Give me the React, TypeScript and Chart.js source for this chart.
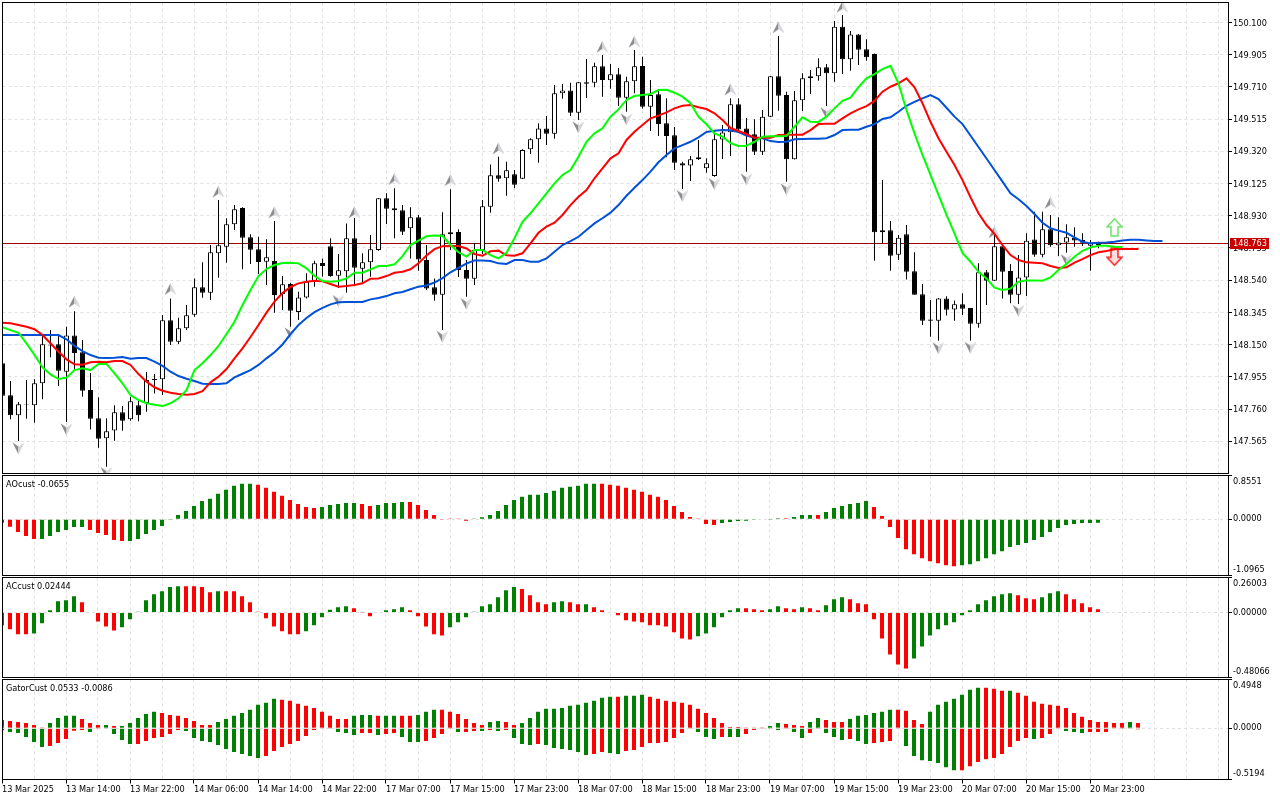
import React, { useEffect, useRef } from 'react';
import { Chart, registerables } from 'chart.js';

Chart.register(...registerables);

// candles, one per hour
const opens = [
  148.037, 147.843, 147.722, 147.788, 147.783, 147.916, 148.151, 148.152, 147.986, 148.206,
  148.104, 147.875, 147.704, 147.583, 147.631, 147.740, 147.698, 147.783, 147.797, 147.942,
  147.940, 148.297, 148.168, 148.249, 148.331, 148.497, 148.464, 148.703, 148.743, 148.878,
  148.977, 148.800, 148.727, 148.652, 148.656, 148.456, 148.517, 148.347, 148.436, 148.531,
  148.644, 148.745, 148.567, 148.594, 148.794, 148.610, 148.648, 148.723, 149.036, 148.975,
  148.963, 148.854, 148.921, 148.662, 148.497, 148.452, 148.818, 148.832, 148.602, 148.549,
  148.723, 148.985, 149.175, 149.157, 149.181, 149.154, 149.332, 149.393, 149.459, 149.427,
  149.671, 149.689, 149.554, 149.738, 149.735, 149.835, 149.750, 149.786, 149.645, 149.744,
  149.837, 149.590, 149.665, 149.490, 149.417, 149.248, 149.235, 149.284, 149.217, 149.171,
  149.392, 149.435, 149.605, 149.459, 149.423, 149.318, 149.530, 149.774, 149.661, 149.272,
  149.629, 149.762, 149.774, 149.829, 149.792, 150.074, 149.877, 150.028, 149.938, 149.909,
  148.830, 148.842, 148.694, 148.818, 148.594, 148.455, 148.302, 148.295, 148.430, 148.363,
  148.394, 148.372, 148.277, 148.588, 148.537, 148.745, 148.596, 148.452, 148.557, 148.787,
  148.694, 148.848, 148.751, 148.769, 148.797, 148.783, 148.749, 148.753,
];
const highs = [
  148.039, 147.930, 147.803, 147.936, 147.940, 148.202, 148.239, 148.208, 148.258, 148.352,
  148.178, 147.978, 147.831, 147.704, 147.783, 147.778, 147.835, 147.821, 147.984, 147.972,
  148.329, 148.430, 148.313, 148.390, 148.551, 148.648, 148.753, 149.025, 148.915, 148.995,
  148.981, 148.818, 148.803, 148.788, 148.898, 148.565, 148.525, 148.470, 148.582, 148.658,
  148.672, 148.794, 148.699, 148.884, 148.916, 148.703, 148.814, 149.037, 149.066, 149.096,
  148.995, 148.981, 148.935, 148.753, 148.551, 148.951, 149.090, 148.848, 148.662, 148.765,
  149.025, 149.241, 149.287, 149.257, 149.207, 149.332, 149.399, 149.490, 149.534, 149.721,
  149.728, 149.735, 149.740, 149.879, 149.856, 149.903, 149.849, 149.824, 149.772, 149.933,
  149.893, 149.752, 149.691, 149.641, 149.467, 149.257, 149.292, 149.389, 149.278, 149.449,
  149.479, 149.641, 149.641, 149.522, 149.514, 149.570, 149.776, 150.018, 149.681, 149.685,
  149.792, 149.812, 149.883, 149.849, 150.109, 150.145, 150.048, 150.030, 149.998, 149.913,
  149.146, 148.898, 148.814, 148.874, 148.709, 148.517, 148.420, 148.432, 148.443, 148.417,
  148.461, 148.372, 148.642, 148.602, 148.826, 148.753, 148.638, 148.692, 148.824, 148.955,
  148.955, 148.935, 148.921, 148.878, 148.860, 148.824, 148.783, 148.773,
];
const lows = [
  147.839, 147.698, 147.567, 147.702, 147.677, 147.819, 148.073, 147.900, 147.682, 147.996,
  147.835, 147.637, 147.526, 147.411, 147.568, 147.629, 147.690, 147.686, 147.744, 147.855,
  147.845, 148.148, 148.154, 148.238, 148.319, 148.434, 148.420, 148.555, 148.646, 148.844,
  148.606, 148.638, 148.577, 148.511, 148.343, 148.360, 148.258, 148.299, 148.430, 148.501,
  148.561, 148.561, 148.493, 148.464, 148.511, 148.525, 148.561, 148.719, 148.880, 148.794,
  148.813, 148.672, 148.598, 148.481, 148.416, 148.238, 148.723, 148.559, 148.440, 148.511,
  148.699, 148.949, 149.136, 149.051, 149.096, 149.152, 149.304, 149.251, 149.358, 149.396,
  149.639, 149.534, 149.510, 149.643, 149.708, 149.651, 149.699, 149.594, 149.560, 149.671,
  149.580, 149.443, 149.413, 149.284, 149.207, 149.092, 149.140, 149.268, 149.191, 149.166,
  149.274, 149.292, 149.439, 149.197, 149.298, 149.298, 149.528, 149.566, 149.136, 149.271,
  149.564, 149.667, 149.748, 149.594, 149.741, 149.788, 149.808, 149.843, 149.869, 148.658,
  148.763, 148.597, 148.662, 148.545, 148.452, 148.269, 148.198, 148.174, 148.326, 148.295,
  148.329, 148.174, 148.252, 148.390, 148.535, 148.430, 148.400, 148.396, 148.444, 148.682,
  148.679, 148.743, 148.686, 148.706, 148.743, 148.747, 148.597, 148.733,
];
const closes = [
  147.841, 147.722, 147.789, 147.791, 147.916, 148.152, 148.145, 147.992, 148.206, 148.099,
  147.871, 147.702, 147.581, 147.625, 147.740, 147.690, 147.807, 147.722, 147.936, 147.936,
  148.297, 148.168, 148.249, 148.328, 148.497, 148.464, 148.709, 148.751, 148.878, 148.969,
  148.797, 148.725, 148.650, 148.679, 148.450, 148.515, 148.355, 148.436, 148.531, 148.642,
  148.626, 148.565, 148.600, 148.794, 148.616, 148.648, 148.727, 149.036, 148.973, 148.963,
  148.833, 148.921, 148.666, 148.490, 148.452, 148.818, 148.830, 148.602, 148.549, 148.723,
  148.987, 149.175, 149.154, 149.205, 149.118, 149.328, 149.393, 149.459, 149.427, 149.671,
  149.689, 149.554, 149.738, 149.729, 149.835, 149.752, 149.786, 149.645, 149.744, 149.835,
  149.590, 149.661, 149.485, 149.413, 149.251, 149.235, 149.272, 149.272, 149.248, 149.393,
  149.434, 149.605, 149.452, 149.419, 149.318, 149.530, 149.774, 149.657, 149.272, 149.629,
  149.762, 149.774, 149.829, 149.792, 150.074, 149.877, 150.028, 149.935, 149.889, 148.830,
  148.842, 148.688, 148.797, 148.591, 148.452, 148.295, 148.295, 148.430, 148.361, 148.394,
  148.367, 148.277, 148.588, 148.537, 148.745, 148.591, 148.452, 148.557, 148.779, 148.694,
  148.848, 148.751, 148.769, 148.800, 148.781, 148.767, 148.767, 148.763,
];

// alligator lines, already shifted forward past the last candle
const jaw = [
  148.208, 148.208, 148.208, 148.208, 148.208, 148.208, 148.208, 148.208, 148.182, 148.142,
  148.111, 148.087, 148.071, 148.069, 148.071, 148.075, 148.065, 148.069, 148.069, 148.047,
  148.021, 147.986, 147.960, 147.944, 147.930, 147.913, 147.912, 147.912, 147.916, 147.952,
  147.974, 147.996, 148.027, 148.067, 148.104, 148.151, 148.214, 148.269, 148.311, 148.347,
  148.372, 148.394, 148.406, 148.408, 148.408, 148.408, 148.424, 148.432, 148.444, 148.461,
  148.469, 148.485, 148.501, 148.508, 148.526, 148.553, 148.588, 148.614, 148.641, 148.660,
  148.660, 148.656, 148.642, 148.638, 148.662, 148.662, 148.652, 148.652, 148.672, 148.712,
  148.753, 148.777, 148.803, 148.844, 148.884, 148.915, 148.949, 148.995, 149.051, 149.100,
  149.146, 149.197, 149.254, 149.298, 149.338, 149.358, 149.378, 149.405, 149.437, 149.445,
  149.449, 149.447, 149.437, 149.415, 149.402, 149.399, 149.382, 149.376, 149.378, 149.393,
  149.395, 149.396, 149.396, 149.399, 149.419, 149.449, 149.451, 149.451, 149.469, 149.485,
  149.516, 149.526, 149.560, 149.596, 149.620, 149.641, 149.661, 149.637, 149.584, 149.530,
  149.485, 149.416, 149.346, 149.277, 149.207, 149.137, 149.066, 149.030, 148.989, 148.941,
  148.888, 148.854, 148.840, 148.827, 148.800, 148.773, 148.763, 148.767, 148.769, 148.773,
  148.781, 148.785, 148.785, 148.781, 148.777, 148.777,
];
const teeth = [
  148.283, 148.279, 148.269, 148.258, 148.243, 148.208, 148.158, 148.107, 148.061, 148.031,
  148.028, 148.043, 148.047, 148.043, 148.051, 148.051, 148.027, 147.972, 147.926, 147.892,
  147.871, 147.859, 147.851, 147.847, 147.851, 147.869, 147.922, 147.956, 148.002, 148.067,
  148.128, 148.196, 148.269, 148.344, 148.410, 148.462, 148.499, 148.521, 148.531, 148.537,
  148.533, 148.517, 148.501, 148.505, 148.511, 148.521, 148.549, 148.551, 148.565, 148.585,
  148.591, 148.606, 148.642, 148.689, 148.728, 148.746, 148.747, 148.747, 148.732, 148.699,
  148.688, 148.715, 148.719, 148.691, 148.688, 148.703, 148.763, 148.827, 148.864, 148.888,
  148.935, 148.995, 149.045, 149.086, 149.157, 149.217, 149.278, 149.308, 149.389, 149.439,
  149.479, 149.520, 149.536, 149.556, 149.580, 149.596, 149.600, 149.587, 149.576, 149.550,
  149.510, 149.461, 149.443, 149.425, 149.402, 149.402, 149.402, 149.419, 149.421, 149.421,
  149.421, 149.449, 149.485, 149.487, 149.487, 149.520, 149.550, 149.574, 149.594, 149.625,
  149.681, 149.711, 149.732, 149.762, 149.708, 149.611, 149.499, 149.399, 149.318, 149.237,
  149.146, 149.042, 148.945, 148.874, 148.820, 148.753, 148.692, 148.662, 148.648, 148.646,
  148.642, 148.626, 148.614, 148.618, 148.646, 148.668, 148.692, 148.709, 148.717, 148.727,
  148.729, 148.729, 148.729,
];
const lips = [
  148.255, 148.238, 148.222, 148.158, 148.087, 148.013, 147.970, 147.942, 147.950, 147.996,
  148.007, 147.996, 148.033, 148.033, 147.976, 147.916, 147.845, 147.815, 147.795, 147.786,
  147.778, 147.795, 147.825, 147.875, 147.996, 148.037, 148.087, 148.142, 148.214, 148.289,
  148.390, 148.481, 148.565, 148.608, 148.632, 148.644, 148.646, 148.642, 148.612, 148.565,
  148.535, 148.531, 148.535, 148.551, 148.585, 148.585, 148.606, 148.626, 148.626, 148.636,
  148.686, 148.753, 148.779, 148.806, 148.810, 148.809, 148.753, 148.709, 148.683, 148.723,
  148.723, 148.692, 148.672, 148.706, 148.794, 148.894, 148.945, 149.005, 149.066, 149.126,
  149.177, 149.207, 149.287, 149.378, 149.429, 149.459, 149.530, 149.574, 149.631, 149.655,
  149.661, 149.667, 149.691, 149.693, 149.675, 149.651, 149.611, 149.530, 149.484, 149.429,
  149.409, 149.370, 149.353, 149.354, 149.378, 149.409, 149.411, 149.411, 149.413, 149.469,
  149.526, 149.499, 149.498, 149.530, 149.580, 149.626, 149.645, 149.708, 149.762, 149.788,
  149.818, 149.838, 149.732, 149.570, 149.429, 149.298, 149.177, 149.056, 148.935, 148.824,
  148.705, 148.652, 148.591, 148.551, 148.495, 148.481, 148.489, 148.531, 148.539, 148.539,
  148.537, 148.557, 148.602, 148.638, 148.682, 148.718, 148.739, 148.749, 148.749, 148.743,
  148.741,
];

// fractals and the last signal arrows: bar index and price
const fractalUpBars = [9, 21, 27, 34, 44, 49, 56, 62, 75, 79, 91, 97, 105, 124, 131];
const fractalUpPrices = [
  148.410, 148.487, 149.076, 148.951, 148.951, 149.153, 149.146, 149.338, 149.953, 149.984,
  149.695, 150.071, 150.195, 148.830, 149.009,
];
const fractalDownBars = [2, 8, 13, 36, 42, 55, 58, 72, 78, 85, 89, 93, 98, 103, 117, 121, 127, 133];
const fractalDownPrices = [
  147.522, 147.637, 147.373, 148.218, 148.414, 148.198, 148.396, 149.465, 149.514, 149.050,
  149.122, 149.151, 149.090, 149.550, 148.128, 148.131, 148.355, 148.662,
];
const signalBar = 139;
const signalUpPrice = 148.860;
const signalDownPrice = 148.682;
const lastPrice = 148.763;

const aoValues = [
  -0.065, -0.144, -0.248, -0.327, -0.386, -0.386, -0.327, -0.248, -0.209, -0.150,
  -0.150, -0.209, -0.268, -0.307, -0.405, -0.425, -0.425, -0.386, -0.288, -0.209,
  -0.131, -0.012, 0.085, 0.163, 0.261, 0.359, 0.399, 0.497, 0.575, 0.654,
  0.693, 0.693, 0.673, 0.614, 0.536, 0.458, 0.379, 0.301, 0.242, 0.222,
  0.242, 0.281, 0.301, 0.320, 0.320, 0.301, 0.261, 0.281, 0.320, 0.320,
  0.340, 0.340, 0.281, 0.183, 0.085, -0.005, 0.005, 0.005, -0.026, 0.007,
  0.039, 0.085, 0.163, 0.281, 0.379, 0.438, 0.477, 0.477, 0.516, 0.556,
  0.614, 0.634, 0.654, 0.693, 0.693, 0.693, 0.673, 0.654, 0.614, 0.575,
  0.536, 0.477, 0.438, 0.379, 0.261, 0.144, 0.046, 0.007, -0.092, -0.111,
  -0.072, -0.052, -0.033, -0.026, -0.005, -0.007, -0.005, 0.020, 0.020, 0.046,
  0.085, 0.085, 0.085, 0.144, 0.222, 0.261, 0.301, 0.320, 0.359, 0.242,
  0.065, -0.150, -0.366, -0.582, -0.680, -0.758, -0.817, -0.856, -0.895, -0.915,
  -0.895, -0.876, -0.817, -0.758, -0.680, -0.621, -0.542, -0.503, -0.464, -0.405,
  -0.346, -0.248, -0.170, -0.111, -0.092, -0.072, -0.072, -0.0655,
];
const aoDirs = 'r5 g6 r5 g16 r8 g5 r2 g4 r8 g16 r15 g8 r1 g3 r1 g6 r11 g18';

const acValues = [
  -0.094, -0.124, -0.161, -0.161, -0.154, -0.079, 0.017, 0.084, 0.092, 0.122,
  0.077, 0.005, -0.065, -0.102, -0.132, -0.109, -0.050, 0.007, 0.092, 0.136,
  0.159, 0.189, 0.196, 0.196, 0.196, 0.189, 0.151, 0.159, 0.159, 0.159,
  0.122, 0.077, 0.007, -0.042, -0.102, -0.139, -0.161, -0.161, -0.139, -0.094,
  -0.035, 0.022, 0.040, 0.047, 0.032, 0.002, -0.027, -0.002, 0.017, 0.025,
  0.040, 0.017, -0.027, -0.102, -0.161, -0.169, -0.109, -0.072, -0.035, 0.007,
  0.047, 0.062, 0.114, 0.166, 0.189, 0.174, 0.129, 0.077, 0.062, 0.077,
  0.084, 0.077, 0.062, 0.062, 0.040, 0.017, -0.002, -0.020, -0.057, -0.065,
  -0.072, -0.094, -0.094, -0.102, -0.146, -0.191, -0.199, -0.176, -0.154, -0.109,
  -0.035, 0.017, 0.032, 0.032, 0.025, 0.017, 0.025, 0.047, 0.032, 0.025,
  0.040, 0.032, 0.017, 0.055, 0.099, 0.114, 0.099, 0.069, 0.062, -0.050,
  -0.191, -0.310, -0.385, -0.414, -0.340, -0.251, -0.169, -0.124, -0.094, -0.072,
  -0.020, 0.017, 0.062, 0.092, 0.122, 0.136, 0.144, 0.129, 0.107, 0.099,
  0.114, 0.144, 0.159, 0.136, 0.099, 0.069, 0.040, 0.02444,
];
const acDirs = 'r4 g6 r5 g8 r4 g1 r10 g6 r3 g4 r5 g9 r4 g2 r2 g1 r13 g6 r3 g2 r2 g1 r2 g3 r8 g13 r3 g3 r5';

const gatorUpper = [
  0.085, 0.075, 0.065, 0.054, 0.034, 0.007, 0.054, 0.105, 0.126, 0.126,
  0.095, 0.054, 0.034, 0.034, 0.024, 0.024, 0.054, 0.105, 0.146, 0.167,
  0.156, 0.136, 0.126, 0.105, 0.075, 0.034, 0.034, 0.065, 0.095, 0.126,
  0.156, 0.187, 0.238, 0.258, 0.299, 0.289, 0.279, 0.248, 0.228, 0.207,
  0.167, 0.126, 0.095, 0.095, 0.126, 0.136, 0.136, 0.126, 0.126, 0.126,
  0.126, 0.126, 0.136, 0.167, 0.187, 0.187, 0.167, 0.146, 0.095, 0.054,
  0.034, 0.065, 0.075, 0.065, 0.034, 0.054, 0.105, 0.167, 0.197, 0.197,
  0.207, 0.228, 0.238, 0.258, 0.279, 0.309, 0.319, 0.319, 0.330, 0.330,
  0.340, 0.319, 0.299, 0.279, 0.268, 0.258, 0.238, 0.197, 0.156, 0.105,
  0.054, 0.014, 0.014, 0.003, 0.003, 0.003, 0.024, 0.054, 0.044, 0.034,
  0.024, 0.065, 0.105, 0.085, 0.065, 0.065, 0.095, 0.126, 0.136, 0.156,
  0.167, 0.187, 0.187, 0.177, 0.085, 0.044, 0.167, 0.238, 0.268, 0.299,
  0.340, 0.391, 0.411, 0.411, 0.401, 0.381, 0.381, 0.360, 0.330, 0.268,
  0.248, 0.238, 0.228, 0.207, 0.156, 0.116, 0.085, 0.065, 0.065, 0.054,
  0.054, 0.065, 0.0533,
];
const gatorUpperDirs = 'r6 g4 r3 g1 r1 g5 r7 g8 r9 g3 r1 g2 r2 g3 r6 g2 r2 g12 r1 g3 r15 g2 r3 g2 r3 g6 r4 g7 r3 g1 r14 g1 r1';
const gatorLower = [
  -0.020, -0.037, -0.048, -0.088, -0.139, -0.190, -0.180, -0.150, -0.109, -0.024,
  -0.017, -0.037, -0.007, -0.007, -0.058, -0.119, -0.160, -0.160, -0.129, -0.099,
  -0.088, -0.058, -0.017, -0.027, -0.099, -0.129, -0.139, -0.170, -0.211, -0.241,
  -0.262, -0.282, -0.302, -0.282, -0.231, -0.190, -0.160, -0.129, -0.078, -0.017,
  -0.007, -0.007, -0.037, -0.048, -0.068, -0.048, -0.048, -0.068, -0.058, -0.048,
  -0.088, -0.139, -0.139, -0.129, -0.099, -0.058, -0.007, -0.037, -0.037, -0.027,
  -0.027, -0.017, -0.027, -0.017, -0.099, -0.160, -0.170, -0.160, -0.170, -0.200,
  -0.211, -0.221, -0.241, -0.272, -0.262, -0.241, -0.251, -0.262, -0.231, -0.221,
  -0.190, -0.150, -0.150, -0.139, -0.099, -0.048, -0.007, -0.037, -0.088, -0.109,
  -0.088, -0.088, -0.088, -0.058, -0.017, -0.007, -0.007, -0.017, -0.007, -0.037,
  -0.099, -0.048, -0.002, -0.048, -0.088, -0.119, -0.109, -0.129, -0.160, -0.150,
  -0.139, -0.129, -0.003, -0.180, -0.282, -0.323, -0.333, -0.353, -0.394, -0.425,
  -0.425, -0.384, -0.343, -0.313, -0.302, -0.262, -0.190, -0.129, -0.099, -0.109,
  -0.099, -0.058, -0.007, -0.027, -0.037, -0.048, -0.037, -0.037, -0.037, -0.003,
  -0.007, -0.003, -0.0086,
];
const gatorLowerDirs = 'g6 r5 g1 r1 g4 r6 g10 r8 g4 r2 g1 r2 g3 r4 g1 r2 g1 r1 g1 r1 g3 r1 g6 r2 g2 r9 g3 r1 g2 r3 g2 r1 g2 r2 g3 r1 g2 r4 g7 r9 g1 r3 g3 r5 g1 r1';

const priceTicks = [
  150.100, 149.905, 149.710, 149.515, 149.320, 149.125, 148.930, 148.735, 148.540, 148.345,
  148.150, 147.955, 147.760, 147.565,
];
// one label every eight bars
const timeLabels = [
  '13 Mar 2025', '13 Mar 14:00', '13 Mar 22:00', '14 Mar 06:00', '14 Mar 14:00', '14 Mar 22:00',
  '17 Mar 07:00', '17 Mar 15:00', '17 Mar 23:00', '18 Mar 07:00', '18 Mar 15:00', '18 Mar 23:00',
  '19 Mar 07:00', '19 Mar 15:00', '19 Mar 23:00', '20 Mar 07:00', '20 Mar 15:00', '20 Mar 23:00',
];

const GREEN = '#008000';
const RED = '#ff0000';
const GRID = '#e0e0e0';
const DASH = [3, 3];
const FONT = { family: '"DejaVu Sans", sans-serif', size: 8.2 };
const CSS_FONT = '8.2px "DejaVu Sans", sans-serif';
const AXIS_WIDTH = 52;
const BARS_VISIBLE = 153.25;
const GRID_BARS = Array.from({ length: 39 }, (_, k) => k * 4);

const expandDirs = (runs: string): string[] =>
  runs.split(' ').flatMap((r) => Array(Number(r.slice(1))).fill(r[0] === 'g' ? GREEN : RED));

const points = (values: number[]) => values.map((y, x) => ({ x, y }));

const markerCanvas = (w: number, h: number, draw: (c: CanvasRenderingContext2D) => void) => {
  const canvas = document.createElement('canvas');
  canvas.width = w;
  canvas.height = h;
  draw(canvas.getContext('2d') as CanvasRenderingContext2D);
  return canvas;
};

// grey stealth arrow of the fractals
const fractalArrow = (up: boolean) =>
  markerCanvas(13, 13, (c) => {
    if (!up) {
      c.translate(0, 13);
      c.scale(1, -1);
    }
    c.fillStyle = '#8c8c8c';
    c.beginPath();
    c.moveTo(6.5, 0.5);
    c.lineTo(0.5, 12.5);
    c.lineTo(6.5, 8.5);
    c.closePath();
    c.fill();
    c.fillStyle = '#d6d6dc';
    c.beginPath();
    c.moveTo(6.5, 0.5);
    c.lineTo(12.5, 12.5);
    c.lineTo(6.5, 8.5);
    c.closePath();
    c.fill();
  });

// block arrow of the last signal
const signalArrow = (up: boolean, stroke: string, fill: string) =>
  markerCanvas(17, 19, (c) => {
    if (!up) {
      c.translate(0, 19);
      c.scale(1, -1);
    }
    c.strokeStyle = stroke;
    c.fillStyle = fill;
    c.lineWidth = 1.5;
    c.beginPath();
    c.moveTo(8.5, 1);
    c.lineTo(16, 9);
    c.lineTo(12, 9);
    c.lineTo(12, 18);
    c.lineTo(5, 18);
    c.lineTo(5, 9);
    c.lineTo(1, 9);
    c.closePath();
    c.fill();
    c.stroke();
  });

const frameAndText = (title: string | null, yLabels: [string, number, number][]) => ({
  id: 'frameAndText',
  afterDraw(chart: Chart) {
    const { ctx, chartArea: a, scales } = chart;
    ctx.save();
    ctx.strokeStyle = '#000';
    ctx.lineWidth = 1;
    const left = Math.floor(a.left) + 0.5;
    const top = Math.floor(a.top) + 0.5;
    ctx.strokeRect(left, top, a.right + 0.5 - left, Math.floor(a.bottom) + 0.5 - top);
    ctx.fillStyle = '#000';
    ctx.font = CSS_FONT;
    ctx.textBaseline = 'middle';
    ctx.textAlign = 'left';
    if (title) ctx.fillText(title, 6, a.top + 9.5);
    yLabels.forEach(([text, value, shift]) => {
      ctx.fillText(text, a.right + 5, scales.y.getPixelForValue(value) + shift);
    });
    ctx.restore();
  },
});

// last price line under the candles and its tag on the axis
const priceTag = {
  id: 'priceTag',
  beforeDatasetsDraw(chart: Chart) {
    const { ctx, chartArea: a, scales } = chart;
    const y = Math.floor(scales.y.getPixelForValue(lastPrice)) + 0.5;
    ctx.save();
    ctx.strokeStyle = '#a00000';
    ctx.lineWidth = 1;
    ctx.beginPath();
    ctx.moveTo(a.left, y);
    ctx.lineTo(a.right, y);
    ctx.stroke();
    ctx.restore();
  },
  afterDraw(chart: Chart) {
    const { ctx, chartArea: a, scales } = chart;
    const y = Math.round(scales.y.getPixelForValue(lastPrice));
    ctx.save();
    ctx.fillStyle = '#c80000';
    ctx.fillRect(a.right + 2, y - 5, 39, 11);
    ctx.fillStyle = '#fff';
    ctx.font = CSS_FONT;
    ctx.textBaseline = 'middle';
    ctx.textAlign = 'left';
    ctx.fillText(lastPrice.toFixed(3), a.right + 5, y + 0.5);
    ctx.restore();
  },
};

const noLabelPadding = (s: any) => {
  s.paddingTop = 0;
  s.paddingBottom = 0;
  s.paddingLeft = 0;
  s.paddingRight = 0;
};

const xScale = (barsMax: number, showLabels: boolean) => ({
  type: 'linear',
  min: 0,
  max: barsMax,
  offset: false,
  afterBuildTicks: (s: any) => {
    s.ticks = GRID_BARS.map((value) => ({ value }));
  },
  afterFit: (s: any) => {
    s.height = showLabels ? 20.5 : 0;
    noLabelPadding(s);
  },
  border: { display: false, dash: DASH },
  grid: {
    offset: false,
    color: GRID,
    lineWidth: 1,
    drawTicks: showLabels,
    tickLength: 4,
    tickColor: (ctx: any) =>
      ctx.tick && ctx.tick.value % 8 === 0 && ctx.tick.value / 8 < timeLabels.length ? '#000' : 'rgba(0,0,0,0)',
  },
  ticks: {
    display: showLabels,
    autoSkip: false,
    maxRotation: 0,
    align: 'start',
    padding: 1,
    color: '#000',
    font: FONT,
    callback: (value: number) => (value % 8 === 0 ? timeLabels[value / 8] ?? '' : ''),
  },
});

const yScale = (min: number, max: number, tickValues: number[], showLabels: boolean) => ({
  position: 'right',
  min,
  max,
  afterBuildTicks: (s: any) => {
    s.ticks = tickValues.map((value) => ({ value }));
  },
  afterFit: (s: any) => {
    s.width = AXIS_WIDTH;
    noLabelPadding(s);
  },
  border: { display: false, dash: DASH },
  grid: { color: GRID, drawTicks: true, tickLength: 4, tickColor: '#000' },
  ticks: {
    display: showLabels,
    autoSkip: false,
    padding: 1,
    labelOffset: 1,
    color: '#000',
    font: FONT,
    callback: (value: number) => value.toFixed(3),
  },
});

const barSet = (values: number[], colours: string[]) => ({
  type: 'bar',
  data: points(values),
  backgroundColor: colours,
  barThickness: 4,
  grouped: false,
  inflateAmount: 0,
  borderWidth: 0,
});

const lineSet = (values: number[], colour: string, order: number) => ({
  type: 'line',
  data: points(values),
  borderColor: colour,
  borderWidth: 2,
  pointRadius: 0,
  tension: 0,
  order,
});

const markerSet = (bars: number[], prices: number[], style: HTMLCanvasElement) => ({
  type: 'line',
  data: bars.map((x, k) => ({ x, y: prices[k] })),
  showLine: false,
  pointStyle: style,
  pointRadius: 7,
  order: 9,
});

const baseOptions = (padding: object, scales: object) => ({
  responsive: false,
  animation: false,
  devicePixelRatio: 1,
  events: [],
  layout: { padding, autoPadding: false },
  plugins: { legend: { display: false }, tooltip: { enabled: false }, title: { display: false } },
  scales,
});

const App: React.FC = () => {
  const mainRef = useRef<HTMLCanvasElement>(null);
  const aoRef = useRef<HTMLCanvasElement>(null);
  const acRef = useRef<HTMLCanvasElement>(null);
  const gatorRef = useRef<HTMLCanvasElement>(null);

  useEffect(() => {
    document.body.style.margin = '0';
    const bars = opens.map((_, i) => i);

    const main = new Chart(mainRef.current as HTMLCanvasElement, {
      type: 'bar',
      data: {
        datasets: [
          markerSet(fractalUpBars, fractalUpPrices, fractalArrow(true)),
          markerSet(fractalDownBars, fractalDownPrices, fractalArrow(false)),
          markerSet([signalBar], [signalUpPrice], signalArrow(true, '#70e070', '#fafffa')),
          markerSet([signalBar], [signalDownPrice], signalArrow(false, '#ff2020', '#ffe0e0')),
          {
            type: 'bar',
            data: bars.map((x) => ({ x, y: [lows[x], highs[x]] })),
            backgroundColor: '#000',
            barThickness: 1,
            grouped: false,
            inflateAmount: 0,
            order: 6,
          },
          {
            type: 'bar',
            data: bars.map((x) => ({ x, y: [opens[x], closes[x]] })),
            backgroundColor: bars.map((x) => (closes[x] >= opens[x] ? '#fff' : '#000')),
            borderColor: '#000',
            borderWidth: 1,
            borderSkipped: false,
            barThickness: 5,
            grouped: false,
            inflateAmount: 0,
            order: 5,
          },
          lineSet(jaw, '#0050d8', 3),
          lineSet(teeth, RED, 2),
          lineSet(lips, '#00ff00', 1),
        ],
      } as any,
      options: baseOptions(
        { left: 2.5, top: 2.5, bottom: 1.5, right: 0 },
        { x: xScale(153.19, false), y: yScale(147.37, 150.221, priceTicks, true) },
      ) as any,
      plugins: [frameAndText(null, []), priceTag],
    });

    const ao = new Chart(aoRef.current as HTMLCanvasElement, {
      type: 'bar',
      data: { datasets: [barSet(aoValues, expandDirs(aoDirs))] } as any,
      options: baseOptions(
        { left: 2, top: 1.5, bottom: 0.5, right: 0 },
        { x: xScale(BARS_VISIBLE, false), y: yScale(-1.0965, 0.8551, [-1.0965, 0, 0.8551], false) },
      ) as any,
      plugins: [
        frameAndText('AOcust -0.0655', [
          ['0.8551', 0.8551, 6],
          ['0.0000', 0, 0],
          ['-1.0965', -1.0965, -5.5],
        ]),
      ],
    });

    const ac = new Chart(acRef.current as HTMLCanvasElement, {
      type: 'bar',
      data: { datasets: [barSet(acValues, expandDirs(acDirs))] } as any,
      options: baseOptions(
        { left: 2, top: 1.5, bottom: 0.5, right: 0 },
        { x: xScale(BARS_VISIBLE, false), y: yScale(-0.48066, 0.26003, [-0.48066, 0, 0.26003], false) },
      ) as any,
      plugins: [
        frameAndText('ACcust 0.02444', [
          ['0.26003', 0.26003, 6],
          ['0.00000', 0, 0],
          ['-0.48066', -0.48066, -5.5],
        ]),
      ],
    });

    const gator = new Chart(gatorRef.current as HTMLCanvasElement, {
      type: 'bar',
      data: {
        datasets: [
          { ...barSet(gatorUpper, expandDirs(gatorUpperDirs)), order: 2 },
          { ...barSet(gatorLower, expandDirs(gatorLowerDirs)), order: 2 },
          {
            type: 'line',
            data: [{ x: 0, y: 0 }, { x: 143, y: 0 }],
            borderColor: GRID,
            borderWidth: 1,
            borderDash: DASH,
            pointRadius: 0,
            order: 1,
          },
        ],
      } as any,
      options: baseOptions(
        { left: 2, top: 1.5, bottom: 0, right: 0 },
        { x: xScale(BARS_VISIBLE, true), y: yScale(-0.5194, 0.4948, [-0.5194, 0, 0.4948], false) },
      ) as any,
      plugins: [
        frameAndText('GatorCust 0.0533 -0.0086', [
          ['0.4948', 0.4948, 6],
          ['0.0000', 0, 0],
          ['-0.5194', -0.5194, -5.5],
        ]),
      ],
    });

    return () => {
      main.destroy();
      ao.destroy();
      ac.destroy();
      gator.destroy();
    };
  }, []);

  const place = (top: number): React.CSSProperties => ({ position: 'absolute', left: 0, top, display: 'block' });

  return (
    <div style={{ position: 'absolute', left: 0, top: 0, width: 1280, height: 800, background: '#fff', overflow: 'hidden' }}>
      <canvas ref={mainRef} width={1280} height={475} style={place(0)} />
      <canvas ref={aoRef} width={1280} height={102} style={place(474)} />
      <canvas ref={acRef} width={1280} height={102} style={place(576)} />
      <canvas ref={gatorRef} width={1280} height={122} style={place(678)} />
    </div>
  );
};

export default App;
